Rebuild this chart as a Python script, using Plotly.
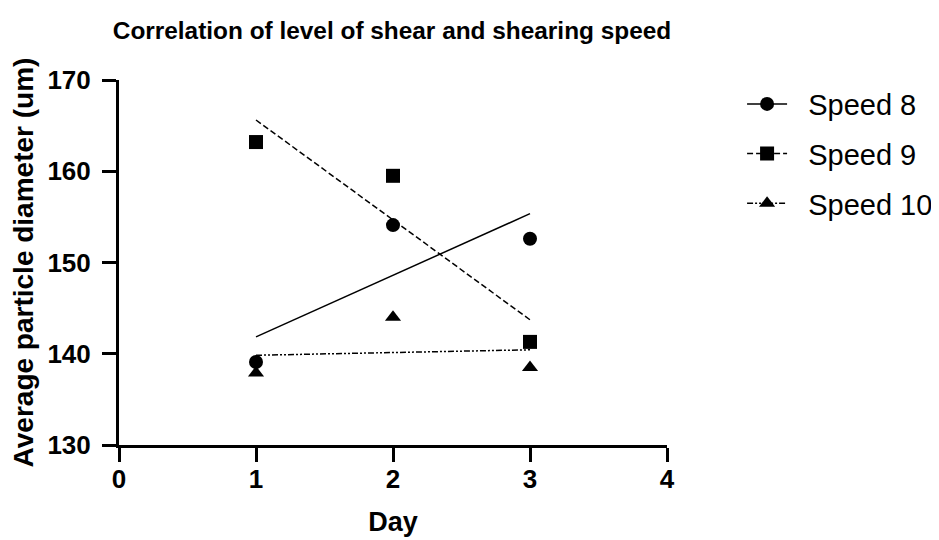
import numpy as np
import plotly.graph_objects as go

days = [1, 2, 3]
speed8 = [139.1, 154.1, 152.6]
speed9 = [163.2, 159.5, 141.3]
speed10 = [137.9, 144.0, 138.5]
series_names = ["Speed 8", "Speed 9", "Speed 10"]
x_ticks = [0, 1, 2, 3, 4]
y_ticks = [130, 140, 150, 160, 170]

symbols = ["circle", "square", "triangle-up"]
dashes = ["solid", "6px,3px", "6px,2px,2px,2px,2px,2px"]

fig = go.Figure()
for i, (name, vals) in enumerate(zip(series_names, [speed8, speed9, speed10])):
    slope, inter = np.polyfit(days, vals, 1)
    fx = [days[0], days[-1]]
    fy = [inter + slope * d for d in fx]
    fig.add_trace(go.Scatter(x=fx, y=fy, mode="lines", showlegend=False,
                             line=dict(color="black", width=1.5, dash=dashes[i]),
                             cliponaxis=False, hoverinfo="skip"))
    fig.add_trace(go.Scatter(x=days, y=vals, mode="markers", showlegend=False,
                             marker=dict(symbol=symbols[i], size=14, color="black"),
                             cliponaxis=False, name=name))
    fig.add_trace(go.Scatter(x=[None], y=[None], mode="lines+markers",
                             name="\u00a0\u00a0" + name,
                             legendgroup=name,
                             line=dict(color="black", width=1.5, dash=dashes[i]),
                             marker=dict(symbol=symbols[i], size=14, color="black")))

axis_font = dict(family="Liberation Sans", size=26, color="black")
fig.update_layout(
    width=939, height=540,
    margin=dict(l=111, r=280, t=72, b=103, autoexpand=False),
    paper_bgcolor="white", plot_bgcolor="white",
    font=dict(family="Liberation Sans", color="black"),
    title=dict(text="<b>Correlation of level of shear and shearing speed</b>",
               x=384 / 939, xanchor="center", y=1 - 22 / 540, yanchor="middle",
               font=dict(size=24.4, family="Liberation Sans", color="black")),
    xaxis=dict(range=[0, 4], tickvals=x_ticks, ticktext=[f"<b>{t}</b>" for t in x_ticks],
               showgrid=False, zeroline=False, showline=True, linecolor="black", linewidth=3,
               ticks="outside", ticklen=14, tickwidth=3, tickcolor="black",
               tickfont=axis_font, automargin=False, ticklabelstandoff=-5,
               title=dict(text="<b>Day</b>", font=dict(size=27, family="Liberation Sans"), standoff=19)),
    yaxis=dict(range=[130, 170], tickvals=y_ticks, ticktext=[f"<b>{t}</b>" for t in y_ticks],
               showgrid=False, zeroline=False, showline=True, linecolor="black", linewidth=3,
               ticks="outside", ticklen=14, tickwidth=3, tickcolor="black",
               tickfont=axis_font, automargin=False, ticklabelstandoff=6,
               title=dict(text="<b>Average particle diameter (um)</b>",
                          font=dict(size=28, family="Liberation Sans"), standoff=9)),
    legend=dict(x=1.137, y=1.004, xanchor="left", yanchor="top",
                font=dict(size=29, family="Liberation Sans", color="black"),
                itemwidth=40, tracegroupgap=9, bgcolor="rgba(0,0,0,0)"),
    showlegend=True,
)

fig.write_html("out.html")
